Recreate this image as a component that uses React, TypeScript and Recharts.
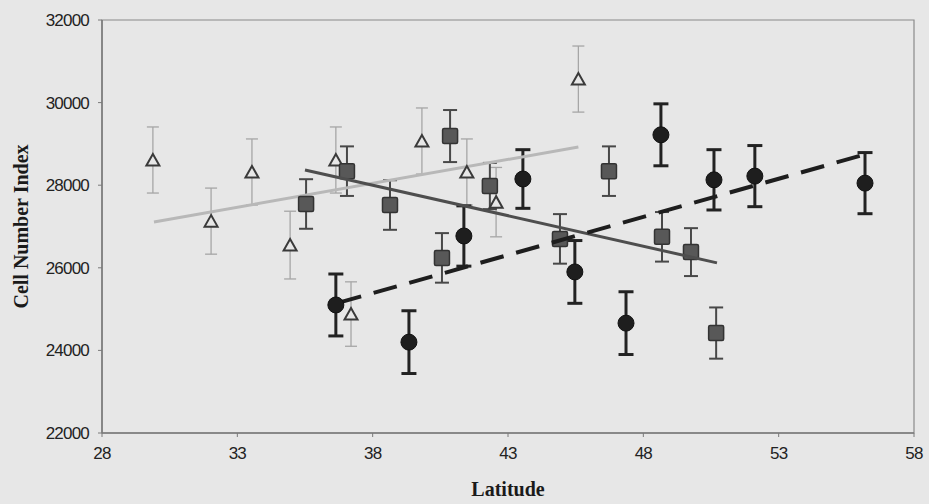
import React from 'react';
import { ScatterChart, Scatter, XAxis, YAxis, ErrorBar, ReferenceArea } from 'recharts';

// Site groups: latitude, mean cell number index and its error half-range
const triLat = [29.88, 32.03, 33.54, 34.95, 36.64, 37.2, 39.82, 41.48, 42.56, 45.6];
const triVal = [28610, 27130, 28320, 26550, 28610, 24880, 29070, 28320, 27590, 30570];
const triErr = [800, 800, 800, 820, 800, 780, 800, 800, 840, 800];

const sqLat = [35.54, 37.05, 38.64, 40.56, 40.86, 42.33, 44.92, 46.73, 48.69, 49.76, 50.69];
const sqVal = [27545, 28340, 27520, 26240, 29190, 27980, 26700, 28340, 26750, 26380, 24420];
const sqErr = [600, 600, 600, 600, 630, 560, 600, 600, 600, 580, 620];

const ciLat = [36.64, 39.34, 41.37, 43.55, 45.47, 47.36, 48.65, 50.61, 52.12, 56.19];
const ciVal = [25100, 24200, 26770, 28150, 25900, 24660, 29220, 28130, 28220, 28050];
const ciErr = [750, 760, 730, 710, 760, 760, 750, 730, 740, 740];

// Fitted regression lines (endpoints)
const triFitLat = [29.92, 45.6];
const triFitVal = [27110, 28925];
const sqFitLat = [35.5, 50.72];
const sqFitVal = [28370, 26120];
const ciFitLat = [36.72, 56.11];
const ciFitVal = [25150, 28730];

const xTicks = [28, 33, 38, 43, 48, 53, 58];
const yTicks = [22000, 24000, 26000, 28000, 30000, 32000];

const toPoints = (lat: number[], val: number[], err?: number[]) =>
  lat.map((x, i) => ({ x, y: val[i], err: err ? err[i] : 0 }));

const triData = toPoints(triLat, triVal, triErr);
const sqData = toPoints(sqLat, sqVal, sqErr);
const ciData = toPoints(ciLat, ciVal, ciErr);
const triFit = toPoints(triFitLat, triFitVal);
const sqFit = toPoints(sqFitLat, sqFitVal);
const ciFit = toPoints(ciFitLat, ciFitVal);

const BG = '#e7e7e7';

const TriangleMark = (p: any) => {
  const { cx, cy } = p;
  return (
    <polygon
      points={`${cx},${cy - 6} ${cx - 6.5},${cy + 5.5} ${cx + 6.5},${cy + 5.5}`}
      fill={BG}
      stroke="#3a3a3a"
      strokeWidth={2}
    />
  );
};

const SquareMark = (p: any) => {
  const { cx, cy } = p;
  return (
    <rect x={cx - 7.5} y={cy - 7.5} width={15} height={15} rx={1.5}
      fill="#585858" stroke="#333" strokeWidth={1.5} />
  );
};

const CircleMark = (p: any) => {
  const { cx, cy } = p;
  return <circle cx={cx} cy={cy} r={8} fill="#1e1e1e" stroke="#111" strokeWidth={1} />;
};

const NoMark = () => <g />;

const tickStyle = {
  fontFamily: '"Liberation Sans", Arial, sans-serif',
  fontSize: 17,
  letterSpacing: -0.8,
  fill: '#222',
};

const titleStyle = {
  fontFamily: '"Liberation Serif", "Times New Roman", serif',
  fontSize: 20,
  fontWeight: 'bold',
  fill: '#1a1a1a',
  textAnchor: 'middle',
};

export default function App() {
  return (
    <div style={{ position: 'absolute', left: 0, top: 0, width: 929, height: 504, background: BG }}>
      <ScatterChart width={929} height={504} margin={{ top: 20, right: 15, left: 10, bottom: 41 }}>
        <XAxis
          type="number"
          dataKey="x"
          domain={[28, 58]}
          ticks={xTicks}
          allowDataOverflow
          height={30}
          tickSize={4}
          tickMargin={10}
          tick={tickStyle}
          axisLine={{ stroke: '#7a7a7a', strokeWidth: 1.5 }}
          tickLine={{ stroke: '#7a7a7a' }}
          label={{ value: 'Latitude', position: 'bottom', offset: 19, style: titleStyle }}
        />
        <YAxis
          type="number"
          dataKey="y"
          domain={[22000, 32000]}
          ticks={yTicks}
          allowDataOverflow
          width={92}
          tickSize={4}
          tickMargin={9}
          tick={tickStyle}
          axisLine={{ stroke: '#7a7a7a', strokeWidth: 1.5 }}
          tickLine={{ stroke: '#7a7a7a' }}
          label={{ value: 'Cell Number Index', angle: -90, position: 'insideLeft', offset: 11, style: titleStyle }}
        />
        <ReferenceArea x1={28} x2={58} y1={22000} y2={32000} fill="none" fillOpacity={0}
          stroke="#8a8a8a" strokeWidth={1.2} />

        <Scatter data={triFit} shape={NoMark} isAnimationActive={false}
          line={{ stroke: '#b8b8b8', strokeWidth: 3 }} />
        <Scatter data={triData} shape={TriangleMark} isAnimationActive={false}>
          <ErrorBar dataKey="err" direction="y" width={6} stroke="#a6a6a6" strokeWidth={1.3} />
        </Scatter>
        <Scatter data={sqData} shape={SquareMark} isAnimationActive={false}>
          <ErrorBar dataKey="err" direction="y" width={7} stroke="#484848" strokeWidth={2} />
        </Scatter>
        <Scatter data={sqFit} shape={NoMark} isAnimationActive={false}
          line={{ stroke: '#4e4e4e', strokeWidth: 3 }} />
        <Scatter data={ciFit} shape={NoMark} isAnimationActive={false}
          line={{ stroke: '#1e1e1e', strokeWidth: 4, strokeDasharray: '24 13' }} />
        <Scatter data={ciData} shape={CircleMark} isAnimationActive={false}>
          <ErrorBar dataKey="err" direction="y" width={7.5} stroke="#222" strokeWidth={3} />
        </Scatter>
      </ScatterChart>
    </div>
  );
}
